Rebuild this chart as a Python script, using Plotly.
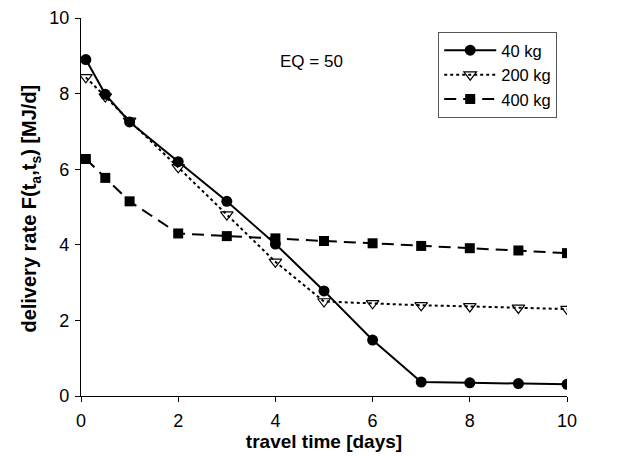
import plotly.graph_objects as go

x = [0.1, 0.5, 1, 2, 3, 4, 5, 6, 7, 8, 9, 10]
y_40 = [8.9, 7.98, 7.25, 6.2, 5.15, 4.02, 2.78, 1.48, 0.37, 0.35, 0.33, 0.31]
y_200 = [8.43, 7.92, 7.28, 6.05, 4.8, 3.55, 2.5, 2.45, 2.4, 2.37, 2.33, 2.3]
y_400 = [6.27, 5.77, 5.15, 4.3, 4.23, 4.17, 4.1, 4.04, 3.97, 3.91, 3.85, 3.78]
names = ["40 kg", "200 kg", "400 kg"]
x_ticks = [0, 2, 4, 6, 8, 10]
y_ticks = [0, 2, 4, 6, 8, 10]

font = "Liberation Sans, Arial, sans-serif"

fig = go.Figure()
fig.add_trace(go.Scatter(x=x, y=y_40, name=names[0], mode="lines+markers",
                         line=dict(color="black", width=2),
                         marker=dict(symbol="circle", size=11, color="black")))
fig.add_trace(go.Scatter(x=x, y=y_200, name=names[1], mode="lines+markers",
                         line=dict(color="black", width=2, dash="dot"),
                         marker=dict(symbol="triangle-down-open", size=11, color="black",
                                     line=dict(width=1.2))))
fig.add_trace(go.Scatter(x=x, y=y_400, name=names[2], mode="lines+markers",
                         line=dict(color="black", width=2, dash="12px,7px"),
                         marker=dict(symbol="square", size=10, color="black")))

fig.add_annotation(x=4.75, y=8.84, text="EQ = 50", showarrow=False,
                   font=dict(size=17, color="black", family=font))

# y-axis title as a rotated annotation for exact placement
fig.add_annotation(xref="paper", yref="paper", x=-0.104, y=0.497,
                   xanchor="center", yanchor="middle", textangle=-90, showarrow=False,
                   text="<b>delivery rate F(t<sub>a</sub>,t<sub>s</sub>) [MJ/d]</b>",
                   font=dict(size=20, color="black", family=font))

fig.update_layout(
    width=622, height=456,
    margin=dict(l=81, r=55, t=18, b=60),
    paper_bgcolor="white", plot_bgcolor="white",
    font=dict(family=font, size=17, color="black"),
    showlegend=True,
    legend=dict(x=0.735, y=0.963, xanchor="left", yanchor="top",
                bordercolor="#555", borderwidth=1, bgcolor="white",
                font=dict(size=16.5, family=font), tracegroupgap=0,
                itemwidth=52),
    xaxis=dict(range=[0, 10], tickvals=x_ticks, showline=True, linecolor="black",
               linewidth=1.2, ticks="outside", ticklen=5, tickcolor="black",
               showgrid=False, zeroline=False, automargin=False,
               ticklabelstandoff=3,
               title=dict(text="<b>travel time [days]</b>", font=dict(size=19), standoff=4),
               tickfont=dict(size=18)),
    yaxis=dict(range=[0, 10], tickvals=y_ticks, showline=True, linecolor="black",
               linewidth=1.2, ticks="outside", ticklen=5, tickcolor="black",
               showgrid=False, zeroline=False, automargin=False,
               ticklabelstandoff=2,
               tickfont=dict(size=18)),
)

fig.write_html("out.html", config={"displayModeBar": False},
               post_script="document.body.style.margin='0';")
